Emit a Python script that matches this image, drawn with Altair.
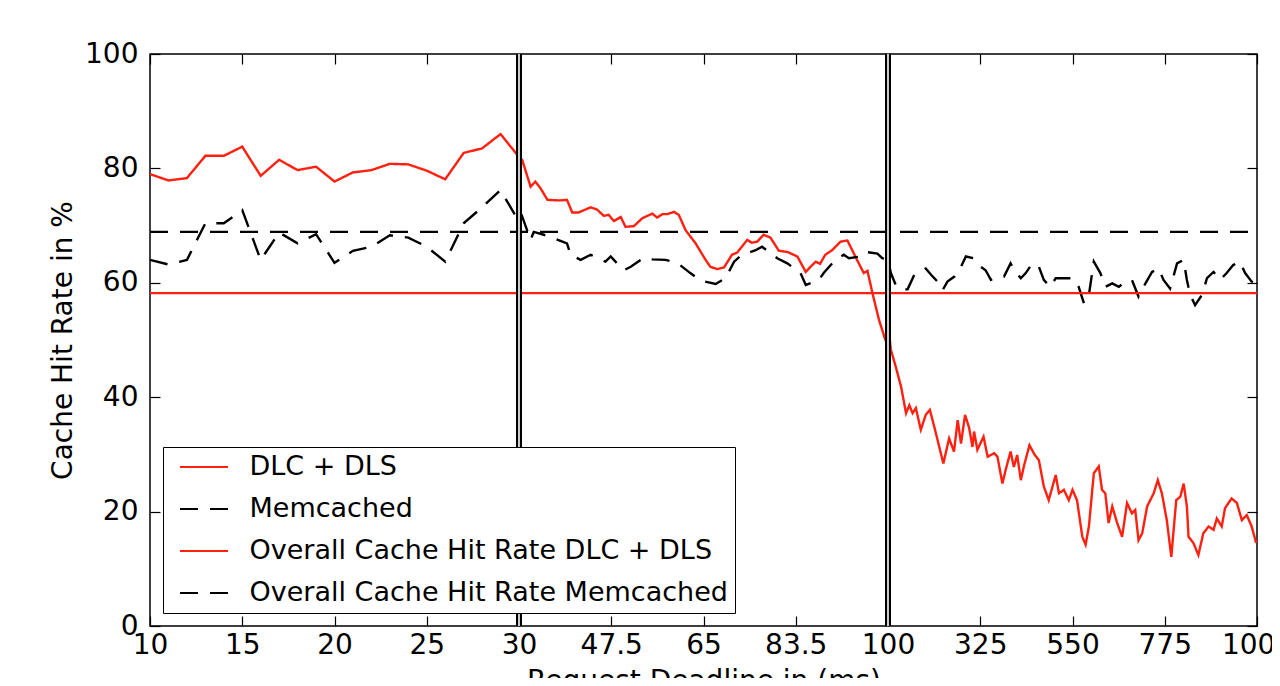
import json
import altair as alt
import pandas as pd

# ---------------- data ----------------
tick_labels = ["10", "15", "20", "25", "30", "47.5", "65", "83.5", "100", "325", "550", "775", "1000"]
y_ticks = [0, 20, 40, 60, 80, 100]
boundaries = [30, 100]

series_names = ["DLC + DLS", "Memcached",
                "Overall Cache Hit Rate DLC + DLS", "Overall Cache Hit Rate Memcached"]
series_colors = ["#ff2010", "#000000", "#ff2010", "#000000"]
series_dash = [[1, 0], [18, 12], [1, 0], [18, 12]]

dlc_ms = [10, 11, 12, 13, 14, 15, 16, 17, 18, 19, 20, 21, 22, 23, 24, 25, 26, 27, 28, 29, 30,
          30.6, 32.2, 33.1, 34.1, 35.4, 37.6, 39.1, 40.1, 41.3, 43.6, 44.8, 46.1, 47.0, 48.0, 49.3,
          50.2, 51.8, 53.4, 55.3, 56.2, 57.2, 58.1, 59.4, 60.3, 61.6, 63.5, 65.4, 66.3, 67.6, 68.9,
          70.4, 71.4, 73.3, 74.2, 75.2, 76.4, 77.7, 79.3, 80.9, 82.8, 84.4, 85.3, 86.3, 87.1, 88.1,
          89.4, 91.0, 92.3, 93.8, 95.4, 96.1, 97.0, 98.3, 99.5, 100,
          102, 107, 119, 132, 144, 152, 160, 168, 180, 192, 202, 213, 221, 235, 249, 261, 270, 278,
          288, 298, 306, 310, 318, 333, 343, 359, 367, 379, 387, 399, 407, 415, 424, 432, 445, 458,
          468, 480, 492, 509, 517, 529, 541, 550, 561, 574, 582, 590, 602, 614, 622, 630, 638, 647,
          659, 671, 683, 695, 703, 711, 720, 732, 748, 758, 768, 780, 791, 803, 813, 821, 829, 833,
          845, 857, 869, 882, 894, 902, 914, 922, 938, 951, 963, 975, 987, 998]
dlc_rate = [79.0, 77.9, 78.3, 82.2, 82.2, 83.8, 78.7, 81.5, 79.7, 80.3, 77.7, 79.3, 79.7, 80.8, 80.7,
            79.6, 78.1, 82.7, 83.5, 86.0, 82.0,
            81.5, 76.8, 77.7, 76.5, 74.5, 74.4, 74.5, 72.3, 72.3, 73.2, 72.8, 71.7, 71.9, 70.8, 71.5,
            69.8, 69.9, 71.3, 72.1, 71.4, 72.0, 72.0, 72.4, 71.9, 69.2, 66.9, 64.0, 62.8, 62.4, 62.7,
            64.9, 65.3, 67.5, 67.0, 67.2, 68.4, 67.9, 65.6, 65.4, 64.6, 61.9, 62.8, 63.7, 63.3, 64.9,
            65.7, 67.2, 67.4, 64.6, 61.7, 62.1, 58.4, 53.5, 50.0, 49.5,
            51.7, 48.3, 45.3, 41.8, 37.2, 38.6, 37.2, 38.1, 34.3, 36.9, 37.8, 34.8, 32.5, 28.4, 32.8,
            30.5, 36.0, 31.9, 36.9, 34.6, 31.3, 34.0, 30.8, 33.1, 29.6, 30.2, 29.6, 24.9, 27.3, 30.5,
            27.8, 29.9, 25.5, 28.1, 31.6, 29.9, 29.0, 24.4, 22.0, 26.4, 23.2, 23.8, 22.0, 23.8, 22.0,
            15.6, 14.2, 17.4, 26.7, 27.9, 23.8, 23.2, 18.0, 20.9, 18.0, 15.6, 21.5, 19.7, 20.3, 15.0,
            16.2, 20.9, 23.2, 25.5, 23.2, 18.5, 12.1, 22.0, 22.6, 24.9, 20.9, 15.6, 14.5, 12.4, 16.2,
            17.4, 16.8, 18.8, 17.4, 20.6, 22.3, 21.5, 18.5, 19.4, 17.4, 14.5]

mem_ms = [10, 11, 12, 13, 14, 15, 16, 17, 18, 19, 20, 21, 22, 23, 24, 25, 26, 27, 28, 29, 30,
          30.6, 32.2, 32.8, 34.7, 36.6, 39.1, 39.8, 41.7, 43.6, 46.4, 47.4, 48.3, 49.9, 51.2, 53.7,
          55.3, 57.8, 60.0, 62.5, 64.4, 67.3, 69.2, 70.8, 72.3, 74.9, 76.1, 79.0, 80.9, 83.4, 84.4,
          86.9, 87.8, 90.0, 91.6, 92.6, 94.8, 95.7, 98.0, 98.9, 100,
          107, 119, 136, 148, 164, 176, 192, 205, 221, 233, 245, 262, 274, 290, 308, 326, 338, 351,
          367, 383, 399, 411, 424, 436, 452, 468, 480, 496, 509, 525, 541, 551, 565, 578, 590, 602,
          618, 630, 647, 663, 679, 695, 711, 728, 744, 760, 772, 788, 805, 821, 829, 837, 849, 866,
          878, 894, 910, 926, 942, 958, 971, 987, 995]
mem_rate = [64.0, 63.2, 64.0, 70.4, 70.4, 72.7, 64.0, 68.8, 66.9, 68.5, 63.5, 65.6, 66.3, 68.3, 67.9,
            66.3, 63.7, 70.4, 73.2, 76.2, 70.7,
            71.6, 67.5, 68.9, 68.4, 67.8, 66.9, 64.9, 64.0, 64.9, 63.7, 64.6, 63.7, 62.2, 62.8, 64.4,
            64.1, 64.0, 63.5, 61.7, 60.4, 59.8, 60.8, 63.7, 64.9, 65.7, 66.3, 64.3, 63.4, 61.7, 59.6,
            60.5, 61.7, 64.0, 64.9, 64.3, 64.6, 65.4, 65.1, 64.3, 64.0,
            61.7, 59.6, 58.7, 58.9, 61.4, 61.9, 62.5, 61.4, 60.2, 58.7, 60.2, 61.1, 62.2, 64.6, 64.3,
            62.8, 62.2, 60.5, 61.1, 61.1, 63.4, 61.9, 60.8, 61.7, 63.4, 62.8, 60.5, 59.3, 60.8, 60.8,
            60.8, 60.8, 59.3, 56.4, 57.9, 63.7, 61.7, 59.3, 59.9, 59.3, 60.2, 60.5, 57.6, 59.9, 61.9,
            62.5, 60.5, 59.0, 63.4, 64.0, 60.5, 57.9, 56.1, 57.9, 60.8, 61.9, 60.5, 61.7, 63.1, 63.7,
            61.7, 60.2, 59.9]

overall_ms = [10, 1000]
overall_dlc = 58.2
overall_mem = 68.9

# ---------------- table ----------------
rows = []
for m, r in zip(dlc_ms, dlc_rate):
    rows.append({"ms": m, "rate": r, "series": series_names[0]})
for m, r in zip(mem_ms, mem_rate):
    rows.append({"ms": m, "rate": r, "series": series_names[1]})
for m in overall_ms:
    rows.append({"ms": m, "rate": overall_dlc, "series": series_names[2]})
    rows.append({"ms": m, "rate": overall_mem, "series": series_names[3]})
df = pd.DataFrame(rows)

pos_expr = ("datum.ms <= 30 ? (datum.ms - 10) / 5 : "
            "(datum.ms <= 100 ? 4 + (datum.ms - 30) / 17.5 : 8 + (datum.ms - 100) / 225)")
label_expr = json.dumps(tick_labels) + "[round(datum.value)]"

FONT = "DejaVu Sans"
x_scale = alt.Scale(domain=[0, 12], nice=False, zero=False)
y_scale = alt.Scale(domain=[0, 100], nice=False)

legend = alt.Legend(
    title=None, orient="none", legendX=13, legendY=393,
    symbolType="M-2,0H2", symbolSize=576, symbolStrokeWidth=2.2, symbolOffset=21,
    labelFontSize=27, labelFont=FONT, labelColor="black", labelOffset=32,
    fillColor="white", strokeColor="black", padding=6.5, rowPadding=14,
    cornerRadius=0, labelLimit=800,
)

lines = alt.Chart(df).transform_calculate(pos=pos_expr).mark_line(strokeWidth=2.4).encode(
    x=alt.X("pos:Q", scale=x_scale,
            axis=alt.Axis(orient="bottom", values=list(range(13)), labelExpr=label_expr,
                          tickSize=10, offset=-10, domain=False, grid=False,
                          labelPadding=5, labelFlush=False, labelOverlap=False,
                          title="Request Deadline in (ms)", titlePadding=8)),
    y=alt.Y("rate:Q", scale=y_scale,
            axis=alt.Axis(orient="left", values=y_ticks, tickSize=10, offset=-10,
                          domain=False, grid=False, labelPadding=12, labelFlush=False,
                          title="Cache Hit Rate in %", titlePadding=7)),
    color=alt.Color("series:N", sort=series_names,
                    scale=alt.Scale(domain=series_names, range=series_colors), legend=legend),
    strokeDash=alt.StrokeDash("series:N", sort=series_names,
                              scale=alt.Scale(domain=series_names, range=series_dash), legend=legend),
)

bdf = pd.DataFrame({"ms": boundaries})
rule_black = alt.Chart(bdf).transform_calculate(pos=pos_expr).mark_rule(
    color="black", strokeWidth=6).encode(x=alt.X("pos:Q", scale=x_scale, axis=None))
rule_white = alt.Chart(bdf).transform_calculate(pos=pos_expr).mark_rule(
    color="white", strokeWidth=1.6).encode(x=alt.X("pos:Q", scale=x_scale, axis=None))

frame_ticks = alt.Chart(df).transform_calculate(pos=pos_expr).mark_point(opacity=0).encode(
    x=alt.X("pos:Q", scale=x_scale,
            axis=alt.Axis(orient="top", values=list(range(13)), tickSize=10, offset=-10,
                          domain=False, grid=False, labels=False, title=None)),
    y=alt.Y("rate:Q", scale=y_scale,
            axis=alt.Axis(orient="right", values=y_ticks, tickSize=10, offset=-10,
                          domain=False, grid=False, labels=False, title=None)),
)

chart = alt.layer(lines, rule_black, rule_white, frame_ticks).resolve_axis(
    x="independent", y="independent"
).properties(
    width=1107, height=572,
    autosize=alt.AutoSizeParams(type="none"),
    padding={"left": 142, "top": 46, "right": 15, "bottom": 52},
    background="white",
).configure_view(
    stroke="black", strokeWidth=1.5
).configure_axis(
    labelFont=FONT, labelFontSize=28, labelColor="black",
    titleFont=FONT, titleFontSize=28, titleFontWeight="normal", titleColor="black",
    tickColor="black", tickWidth=1.2,
)

chart.save("out.html", embed_options={"renderer": "svg", "actions": False})
